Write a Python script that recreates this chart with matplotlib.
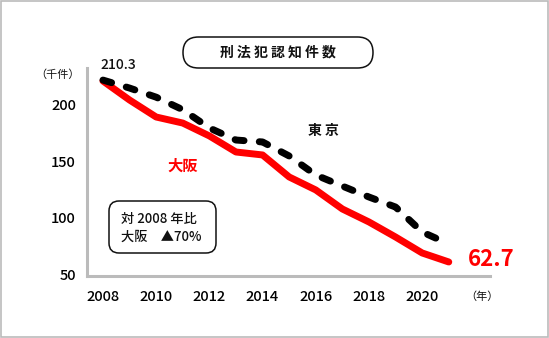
import matplotlib.pyplot as plt
from matplotlib.patches import FancyBboxPatch, Rectangle

plt.rcParams['font.family'] = ['Noto Sans CJK JP', 'DejaVu Sans']
plt.rcParams['lines.scale_dashes'] = False

# data (thousand cases)
years = list(range(2008, 2022))
osaka = [220.2, 203.5, 188.6, 183.3, 172.0, 157.9, 155.3, 136.0, 124.6, 107.9, 96.5, 83.3, 69.3, 61.4]
tokyo = [221.0, 214.0, 206.0, 195.0, 179.0, 168.4, 166.7, 154.4, 137.7, 128.0, 118.4, 109.6, 87.7, 77.2]
yticks = [50, 100, 150, 200]
xticks = [2008, 2010, 2012, 2014, 2016, 2018, 2020]

W, H = 549, 338
fig = plt.figure(figsize=(W / 100, H / 100), dpi=100)

# background layer in pixel coords for the frame and boxes
bg = fig.add_axes([0, 0, 1, 1])
bg.set_xlim(0, W)
bg.set_ylim(H, 0)
bg.axis('off')
bg.add_patch(Rectangle((0.8, 0.8), W - 1.6, H - 1.6, fill=False, ec='#bbbbbb', lw=1.2))

# title pill
bg.add_patch(FancyBboxPatch((183, 37), 190, 31, boxstyle='round,pad=0,rounding_size=15.5',
                            fill=False, ec='#111111', lw=1.1))
bg.text(278, 52.5, '刑 法 犯 認 知 件 数', ha='center', va='center', fontsize=10,
        fontweight='bold', color='#111111')

# main axes
ax = fig.add_axes([87 / W, 1 - 276 / H, (490 - 87) / W, (276 - 68) / H])
ax.set_xlim(2007.40, 2022.55)
ax.set_ylim(49.1, 231.6)
ax.patch.set_alpha(0)

ax.plot(years, osaka, color='#ff0000', lw=5, solid_joinstyle='round',
        solid_capstyle='round', zorder=3)
ax.plot(years, tokyo, color='black', lw=5, dashes=(6.5, 11), dash_capstyle='round',
        dash_joinstyle='round', zorder=4)

for s in ['top', 'right']:
    ax.spines[s].set_visible(False)
for s in ['left', 'bottom']:
    ax.spines[s].set_color('#bbbbbb')
    ax.spines[s].set_linewidth(2.2)

ax.set_yticks(yticks)
ax.set_xticks(xticks)
ax.set_yticklabels([str(v) for v in yticks], fontsize=10.5, fontweight='medium')
ax.set_xticklabels([str(v) for v in xticks], fontsize=10.5, fontweight='medium')
ax.tick_params(axis='y', length=0, pad=8)
ax.tick_params(axis='x', length=0, pad=10)

# series labels
ax.text(2016.3, 176.3, '東 京', ha='center', va='center', fontsize=10, fontweight='bold', color='#111111')
ax.text(2011.0, 145.6, '大阪', ha='center', va='center', fontsize=11, fontweight='bold', color='#ff0000')

ax.annotate('62.7', (years[-1], osaka[-1]), xytext=(14, 2), textcoords='offset points',
            ha='left', va='center', fontsize=16, fontweight='bold', color='#ff0000',
            annotation_clip=False)
ax.annotate('210.3', (years[0], tokyo[0]), xytext=(-2, 11), textcoords='offset points',
            ha='left', va='center', fontsize=10, fontweight='medium', color='#111111',
            annotation_clip=False)

# unit labels
bg.text(58, 75, '（千件）', ha='center', va='center', fontsize=8, color='#111111')
bg.text(482, 297, '（年）', ha='center', va='center', fontsize=8, color='#111111')

# comparison box
bg.add_patch(FancyBboxPatch((109, 201), 107, 52, boxstyle='round,pad=0,rounding_size=10',
                            fill=False, ec='#111111', lw=1.1))
bg.text(121, 219, '対 2008 年比', ha='left', va='center', fontsize=9.5, fontweight='medium', color='#111111')
bg.text(121, 237, '大阪　▲70%', ha='left', va='center', fontsize=9.5, fontweight='medium', color='#111111')

fig.savefig('out.png', dpi=100)
